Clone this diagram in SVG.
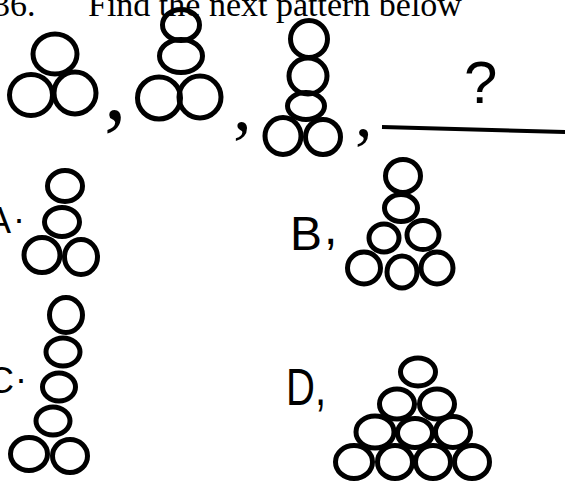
<svg xmlns="http://www.w3.org/2000/svg" width="565" height="481" viewBox="0 0 565 481">
<style>
.c{fill:none;stroke:#000;stroke-width:5}
.h{font-family:"Liberation Serif","Times New Roman",serif;font-size:34px;fill:#000}
.cm{font-family:"Liberation Serif","Times New Roman",serif;fill:#000}
.lb{font-family:"Liberation Sans",Arial,sans-serif;fill:#000}
</style>
<rect width="565" height="481" fill="#fff"/>
<g id="heading">
<text class="h" x="-7" y="16">36.</text>
<text class="h" x="88" y="16">Find the next pattern below</text>
</g>
<g id="fig1">
<ellipse class="c" cx="55" cy="54" rx="22" ry="20"/>
<ellipse class="c" cx="31" cy="95" rx="21.5" ry="20.5"/>
<ellipse class="c" cx="75" cy="93" rx="21" ry="21"/>
<text class="cm" x="104" y="119" font-size="90">,</text>
</g>
<g id="fig2">
<ellipse class="c" cx="181" cy="25" rx="18.5" ry="15.5"/>
<ellipse class="c" cx="181" cy="56" rx="21.5" ry="16.5"/>
<ellipse class="c" cx="159" cy="98" rx="21.5" ry="21"/>
<ellipse class="c" cx="200" cy="97" rx="21" ry="21"/>
<text class="cm" x="233" y="130" font-size="75">,</text>
</g>
<g id="fig3">
<ellipse class="c" cx="309" cy="39" rx="18.5" ry="18.5"/>
<ellipse class="c" cx="308" cy="76" rx="19" ry="18"/>
<ellipse class="c" cx="306" cy="106" rx="18.5" ry="13.5"/>
<ellipse class="c" cx="283" cy="136" rx="18" ry="18.5"/>
<ellipse class="c" cx="323" cy="137" rx="17.5" ry="17.5"/>
<text class="cm" x="355" y="136" font-size="70">,</text>
</g>
<g id="blank">
<path d="M382 127 L565 132" stroke="#000" stroke-width="4" fill="none"/>
<text class="lb" x="464" y="103" font-size="60">?</text>
</g>
<g id="optA">
<text class="lb" x="-13" y="233" font-size="36">A<tspan dx="3" dy="-10">.</tspan></text>
<ellipse class="c" cx="65" cy="186" rx="17.5" ry="15.5"/>
<ellipse class="c" cx="62" cy="222" rx="17.5" ry="14.5"/>
<ellipse class="c" cx="42" cy="255" rx="18" ry="17.5"/>
<ellipse class="c" cx="81" cy="257" rx="16.5" ry="17.5"/>
</g>
<g id="optB">
<text class="lb" x="290" y="250" font-size="48">B<tspan dx="2" dy="-6">,</tspan></text>
<ellipse class="c" cx="403" cy="176" rx="17.5" ry="16.5"/>
<ellipse class="c" cx="401" cy="208" rx="16.5" ry="13.5"/>
<ellipse class="c" cx="384" cy="238" rx="15" ry="14"/>
<ellipse class="c" cx="423" cy="235" rx="16" ry="14.5"/>
<ellipse class="c" cx="364" cy="268" rx="16.5" ry="16"/>
<ellipse class="c" cx="402" cy="272" rx="15" ry="16"/>
<ellipse class="c" cx="437" cy="268" rx="16" ry="16"/>
</g>
<g id="optC">
<text class="lb" x="-12" y="393" font-size="36">C<tspan dx="2" dy="-10">.</tspan></text>
<ellipse class="c" cx="66" cy="315" rx="16.5" ry="17.5"/>
<ellipse class="c" cx="63" cy="352" rx="17" ry="14"/>
<ellipse class="c" cx="59" cy="387" rx="16.5" ry="14"/>
<ellipse class="c" cx="53" cy="421" rx="17" ry="14"/>
<ellipse class="c" cx="29" cy="454" rx="18.5" ry="16.5"/>
<ellipse class="c" cx="70" cy="456" rx="17.5" ry="16.5"/>
</g>
<g id="optD">
<text class="lb" x="286" y="405" font-size="52" textLength="40" lengthAdjust="spacingAndGlyphs">D,</text>
<ellipse class="c" cx="418" cy="372" rx="17.5" ry="14"/>
<ellipse class="c" cx="397" cy="404" rx="17.5" ry="15"/>
<ellipse class="c" cx="437" cy="404" rx="17.5" ry="15"/>
<ellipse class="c" cx="375" cy="432" rx="19" ry="16"/>
<ellipse class="c" cx="415" cy="433" rx="17.5" ry="14.5"/>
<ellipse class="c" cx="453" cy="432" rx="17.5" ry="15.5"/>
<ellipse class="c" cx="354" cy="462" rx="18.5" ry="16.5"/>
<ellipse class="c" cx="395" cy="462" rx="17.5" ry="16.5"/>
<ellipse class="c" cx="433" cy="462" rx="17.5" ry="16.5"/>
<ellipse class="c" cx="472" cy="462" rx="17.5" ry="16.5"/>
</g>
</svg>
